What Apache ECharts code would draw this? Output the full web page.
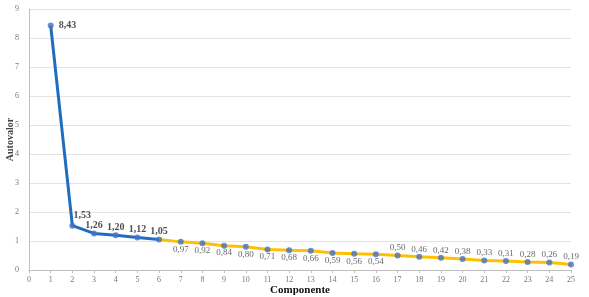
<!DOCTYPE html>
<html>
<head>
<meta charset="utf-8">
<script src="https://cdn.jsdelivr.net/npm/echarts@6/dist/echarts.min.js"></script>
<style>
	html, body { margin: 0; padding: 0; background: #fff; }
	#chart { width: 589px; height: 297px; }
</style>
</head>
<body>
<div id="chart"></div>
<script>
	// componentes 1..25 y sus autovalores
	const componentes = [1, 2, 3, 4, 5, 6, 7, 8, 9, 10, 11, 12, 13, 14, 15, 16, 17, 18, 19, 20, 21, 22, 23, 24, 25];
	const autovalores = [8.43, 1.53, 1.26, 1.20, 1.12, 1.05, 0.97, 0.92, 0.84, 0.80, 0.71, 0.68, 0.66, 0.59, 0.56, 0.54, 0.50, 0.46, 0.42, 0.38, 0.33, 0.31, 0.28, 0.26, 0.19];
	const corte = 6; // componentes retenidos (autovalor > 1)

	const fmt = v => v.toFixed(2).replace(".", ",");
	const serif = "Liberation Serif";

	const pares = componentes.map((c, i) => [c, autovalores[i]]);

	// etiquetas: en negrita las retenidas, debajo 7-16, encima 17-25
	const etiqueta = (c) => {
		if (c === 1) return { position: "right", distance: 5, fontWeight: "bold", fontSize: 10, color: "#222" };
		if (c <= corte) return { position: "top", distance: 0, fontWeight: "bold", fontSize: 10, color: "#222", offset: c === 2 ? [10, -2] : [0, 0] };
		if (c <= 16) return { position: "bottom", distance: 0, fontSize: 9, color: "#444" };
		return { position: "top", distance: 0, fontSize: 9, color: "#444" };
	};

	const chart = echarts.init(document.getElementById("chart"));

	chart.setOption({
		animation: false,
		grid: { left: 29, right: 18, top: 9, bottom: 27, containLabel: false, outerBoundsMode: "none" },
		xAxis: {
			type: "value",
			min: 0,
			max: 25,
			interval: 1,
			name: "Componente",
			nameLocation: "middle",
			nameGap: 15,
			nameMoveOverlap: false,
			nameTextStyle: { fontFamily: serif, fontWeight: "bold", fontSize: 11, color: "#111" },
			axisLine: { lineStyle: { color: "#bfbfbf" } },
			axisTick: { show: true, length: 3, lineStyle: { color: "#bfbfbf" } },
			axisLabel: { fontFamily: serif, fontSize: 8, color: "#777", margin: 6 },
			splitLine: { show: false }
		},
		yAxis: {
			type: "value",
			min: 0,
			max: 9,
			interval: 1,
			name: "Autovalor",
			nameLocation: "middle",
			nameGap: 14,
			nameMoveOverlap: false,
			nameTextStyle: { fontFamily: serif, fontWeight: "bold", fontSize: 10, color: "#444" },
			axisLine: { show: true, lineStyle: { color: "#bfbfbf" } },
			axisTick: { show: false },
			axisLabel: { fontFamily: serif, fontSize: 8, color: "#777", margin: 10 },
			splitLine: { lineStyle: { color: "#e3e3e3" } }
		},
		series: [
			{
				type: "line",
				data: pares.slice(corte - 1),
				z: 2,
				symbol: "none",
				lineStyle: { color: "#FFC000", width: 3 }
			},
			{
				type: "line",
				data: pares.slice(0, corte),
				z: 3,
				symbol: "none",
				lineStyle: { color: "#1F6DC0", width: 3 }
			},
			{
				type: "scatter",
				z: 4,
				symbolSize: 6,
				itemStyle: { color: "#4472C4" },
				data: pares.map(p => ({
					value: p,
					label: Object.assign({
						show: true,
						formatter: fmt(p[1]),
						fontFamily: serif
					}, etiqueta(p[0]))
				}))
			}
		]
	});
</script>
</body>
</html>
